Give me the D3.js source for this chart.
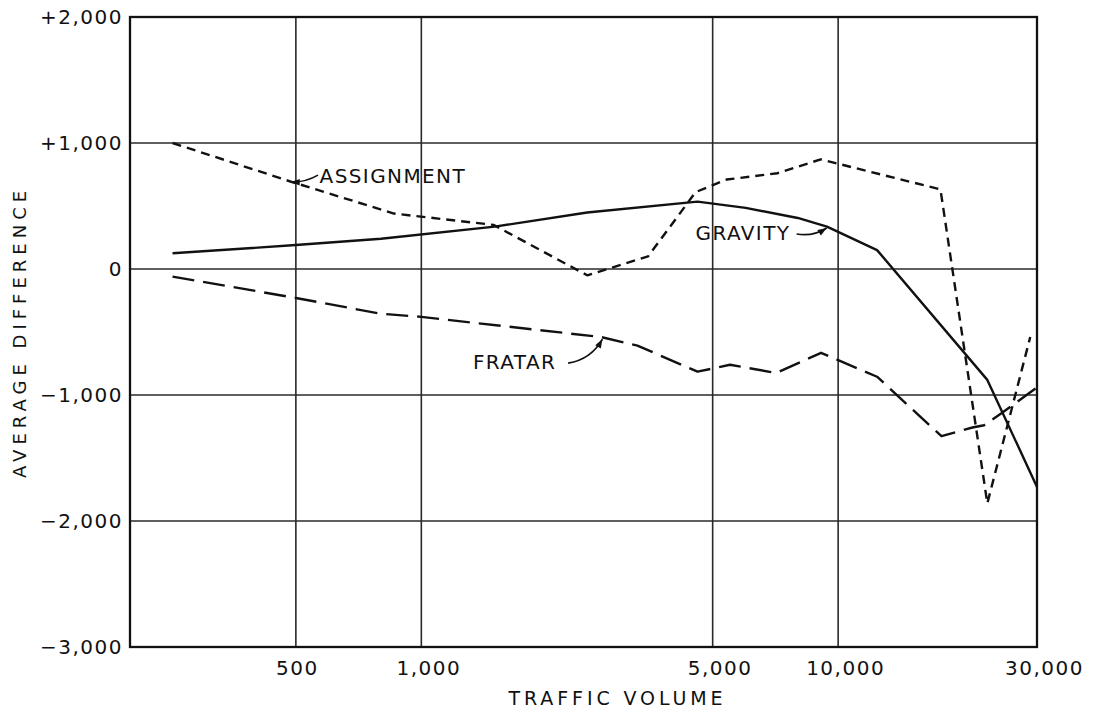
<!DOCTYPE html>
<html>
<head>
<meta charset="utf-8">
<script src="https://cdn.jsdelivr.net/npm/d3@7"></script>
<style>
  html, body { margin: 0; padding: 0; background: #fff; }
  svg { display: block; }
  text { font-family: "DejaVu Sans", sans-serif; fill: #111; }
</style>
</head>
<body>
<svg id="chart" width="1095" height="712"></svg>
<script>
// ---- data ----
const yTickValues = [2000, 1000, 0, -1000, -2000, -3000];
const yTickLabels = ["+2,000", "+1,000", "0", "\u22121,000", "\u22122,000", "\u22123,000"];
const xTickValues = [500, 1000, 5000, 10000, 30000];
const xTickLabels = ["500", "1,000", "5,000", "10,000", "30,000"];

const assignmentVolume = [253, 490, 860, 1490, 2500, 3500, 4550, 5400, 7150, 9080, 17600, 22800, 28900];
const assignmentDiff   = [1000, 690, 440, 350, -50, 100, 610, 710, 760, 870, 632, -1860, -540];

const gravityVolume = [253, 500, 800, 1500, 2500, 4600, 6000, 8000, 9400, 12400, 22800, 30000];
const gravityDiff   = [125, 190, 240, 336, 448, 535, 485, 405, 336, 150, -880, -1730];

const fratarVolume = [253, 500, 800, 1000, 2700, 3300, 4600, 5500, 7100, 9100, 12400, 17700, 21000, 22400, 24600, 30000];
const fratarDiff   = [-60, -230, -355, -380, -540, -608, -815, -760, -825, -665, -855, -1327, -1258, -1240, -1147, -940];

const seriesNames = ["ASSIGNMENT", "GRAVITY", "FRATAR"];
// label anchor (volume, diff), arrow tail and arrow tip in data space
const labelVolume = [570, 4550, 1330];
const labelDiff   = [740, 286, -739];
const arrowTailVolume = [565, 7950, 2250];
const arrowTailDiff   = [745, 278, -747];
const arrowTipVolume  = [486, 9390, 2720];
const arrowTipDiff    = [690, 326, -556];

// ---- chart ----
const svg = d3.select("#chart");
const margin = {left: 130, right: 58, top: 17, bottom: 65};
const W = 1095, H = 712;

const x = d3.scaleLog().domain([200, 30000]).range([margin.left, W - margin.right]);
const y = d3.scaleLinear().domain([-3000, 2000]).range([H - margin.bottom, margin.top]);

// gridlines
const grid = svg.append("g").attr("stroke", "#2a2a2a").attr("stroke-width", 1.6);
grid.selectAll("line.h").data(yTickValues).join("line")
  .attr("x1", x.range()[0]).attr("x2", x.range()[1])
  .attr("y1", d => y(d)).attr("y2", d => y(d));
grid.selectAll("line.v").data(xTickValues).join("line")
  .attr("x1", d => x(d)).attr("x2", d => x(d))
  .attr("y1", y.range()[0]).attr("y2", y.range()[1]);

// frame
svg.append("rect")
  .attr("x", x.range()[0]).attr("y", y.range()[1])
  .attr("width", x.range()[1] - x.range()[0])
  .attr("height", y.range()[0] - y.range()[1])
  .attr("fill", "none").attr("stroke", "#111").attr("stroke-width", 2.3);

// axes
const yAxis = d3.axisLeft(y).tickValues(yTickValues).tickSize(0).tickPadding(7)
  .tickFormat((d, i) => yTickLabels[i]);
const gy = svg.append("g").attr("transform", `translate(${x.range()[0]},0)`).call(yAxis);
gy.select(".domain").remove();
gy.selectAll("text").style("font-size", "20px").style("letter-spacing", "1.5px").attr("fill", "#111");

const xAxis = d3.axisBottom(x).tickValues(xTickValues).tickSize(0).tickPadding(14)
  .tickFormat((d, i) => xTickLabels[i]);
const gx = svg.append("g").attr("transform", `translate(0,${y.range()[0]})`).call(xAxis);
gx.select(".domain").remove();
gx.selectAll("text").style("font-size", "20px").style("letter-spacing", "1.5px").attr("fill", "#111")
  .attr("dx", (d, i) => i === 0 ? 1 : 7);

// axis titles
svg.append("text")
  .attr("x", (x.range()[0] + x.range()[1]) / 2 + 34)
  .attr("y", H - 7)
  .attr("text-anchor", "middle")
  .style("font-size", "19px").style("letter-spacing", "3.9px")
  .text("TRAFFIC VOLUME");

svg.append("text")
  .attr("transform", `translate(26, ${(y.range()[0] + y.range()[1]) / 2}) rotate(-90)`)
  .attr("text-anchor", "middle")
  .style("font-size", "18px").style("letter-spacing", "5px")
  .text("AVERAGE DIFFERENCE");

// series
const line = d3.line().x(d => x(d[0])).y(d => y(d[1]));
const series = [
  {v: assignmentVolume, d: assignmentDiff, dash: "9,6"},
  {v: gravityVolume, d: gravityDiff, dash: null},
  {v: fratarVolume, d: fratarDiff, dash: "22,9"}
];
svg.append("g").selectAll("path").data(series).join("path")
  .attr("d", s => line(s.v.map((v, i) => [v, s.d[i]])))
  .attr("fill", "none").attr("stroke", "#111").attr("stroke-width", 2.4)
  .attr("stroke-linejoin", "round")
  .attr("stroke-dasharray", s => s.dash);

// annotation labels
const ann = svg.append("g");
ann.selectAll("text").data(seriesNames).join("text")
  .attr("x", (d, i) => x(labelVolume[i]))
  .attr("y", (d, i) => y(labelDiff[i]))
  .attr("dy", "0.36em")
  .style("font-size", "20px").style("letter-spacing", "1.4px")
  .text(d => d);

// arrows
const bend = [-4, 6, 10];
ann.selectAll("path.arrow").data(seriesNames).join("path")
  .attr("class", "arrow")
  .attr("d", (d, i) => {
    const x0 = x(arrowTailVolume[i]), y0 = y(arrowTailDiff[i]);
    const x1 = x(arrowTipVolume[i]), y1 = y(arrowTipDiff[i]);
    const mx = (x0 + x1) / 2, my = (y0 + y1) / 2;
    const dx = x1 - x0, dy = y1 - y0, len = Math.hypot(dx, dy);
    const cx = mx - dy / len * bend[i], cy = my + dx / len * bend[i];
    return `M${x0},${y0}Q${cx},${cy} ${x1},${y1}`;
  })
  .attr("fill", "none").attr("stroke", "#111").attr("stroke-width", 1.7);

ann.selectAll("path.head").data(seriesNames).join("path")
  .attr("class", "head")
  .attr("d", (d, i) => {
    const x0 = x(arrowTailVolume[i]), y0 = y(arrowTailDiff[i]);
    const x1 = x(arrowTipVolume[i]), y1 = y(arrowTipDiff[i]);
    const mx = (x0 + x1) / 2, my = (y0 + y1) / 2;
    const dx = x1 - x0, dy = y1 - y0, len = Math.hypot(dx, dy);
    const cx = mx - dy / len * bend[i], cy = my + dx / len * bend[i];
    const a = Math.atan2(y1 - cy, x1 - cx);
    const L = 9, w = 3.2;
    const bx = x1 - L * Math.cos(a), by = y1 - L * Math.sin(a);
    const px = -Math.sin(a) * w, py = Math.cos(a) * w;
    return `M${x1},${y1}L${bx + px},${by + py}L${bx - px},${by - py}Z`;
  })
  .attr("fill", "#111");
</script>
</body>
</html>
